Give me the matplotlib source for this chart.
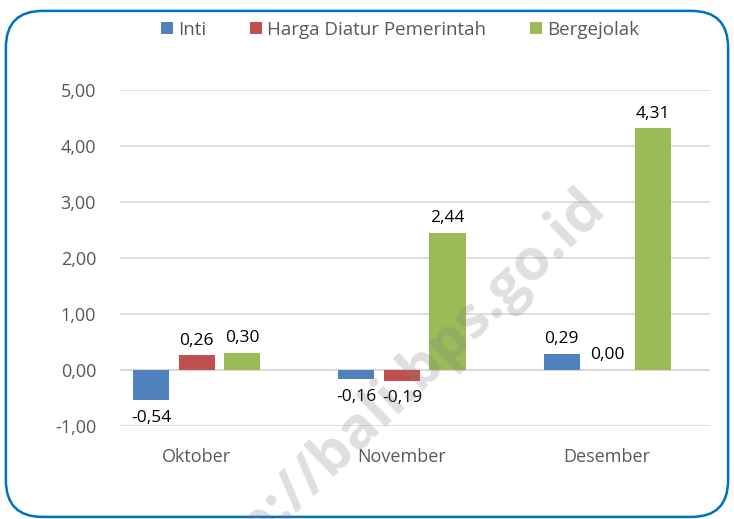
import matplotlib
matplotlib.use("Agg")
import matplotlib.pyplot as plt
from matplotlib.patches import FancyBboxPatch
import numpy as np

plt.rcParams['font.family'] = ['Open Sans', 'DejaVu Sans']

categories = ["Oktober", "November", "Desember"]
series_names = ["Inti", "Harga Diatur Pemerintah", "Bergejolak"]
inti = [-0.54, -0.16, 0.29]
harga = [0.26, -0.19, 0.00]
bergejolak = [0.30, 2.44, 4.31]
colors = ["#4f81bd", "#c0504d", "#9bbb59"]
yticks = [-1, 0, 1, 2, 3, 4, 5]

fig = plt.figure(figsize=(7.34, 5.19), dpi=100)
frame = FancyBboxPatch((0.008, 0.004), 0.984, 0.975, boxstyle="round,pad=0,rounding_size=0.05",
                       transform=fig.transFigure, fill=False, edgecolor="#0070c0", linewidth=1.8,
                       mutation_aspect=734/519)
fig.patches.append(frame)

ax = fig.add_axes([0.163, 0.179, 0.804, 0.648])
x = np.arange(len(categories))
w = 0.176
off = 0.222
data = [inti, harga, bergejolak]
for i, (vals, c, name) in enumerate(zip(data, colors, series_names)):
    pos = x + (i - 1) * off
    ax.bar(pos, vals, width=w, color=c, label=name, zorder=3)
    for p, v in zip(pos, vals):
        lab = f"{v:.2f}".replace(".", ",")
        if v < 0:
            ax.annotate(lab, (p, v), xytext=(0, -7), textcoords="offset points",
                        ha="center", va="top", fontsize=12.5, color="black")
        else:
            ax.annotate(lab, (p, v), xytext=(0, 5), textcoords="offset points",
                        ha="center", va="bottom", fontsize=12.5, color="black")

ax.set_xlim(-0.375, 2.5)
ax.set_ylim(-1, 5)
ax.set_yticks(yticks)
ax.set_yticklabels([f"{t:.2f}".replace(".", ",") for t in yticks], fontsize=13, color="#595959")
ax.set_xticks(x)
ax.set_xticklabels(categories, fontsize=13, color="#595959")
ax.tick_params(axis='y', length=0, pad=17)
ax.tick_params(axis='x', length=0, pad=16)
ax.grid(axis='y', color="#d9d9d9", linewidth=1.2, zorder=0)
for s in ax.spines.values():
    s.set_visible(False)
ax.axhline(0, color="#d9d9d9", linewidth=1.2, zorder=1)

leg = fig.legend(loc="center", bbox_to_anchor=(0.545, 0.943), ncol=3, frameon=False,
                 fontsize=13.5, handlelength=0.65, handleheight=0.65, handletextpad=0.3,
                 columnspacing=2.3)
for t in leg.get_texts():
    t.set_color("#595959")

fig.text(0.531, 0.232, "http://bali.bps.go.id", fontsize=42, fontweight="bold", color="#808080",
         alpha=0.25, rotation=44, ha="center", va="center", zorder=5)

fig.savefig("out.png", dpi=100)
